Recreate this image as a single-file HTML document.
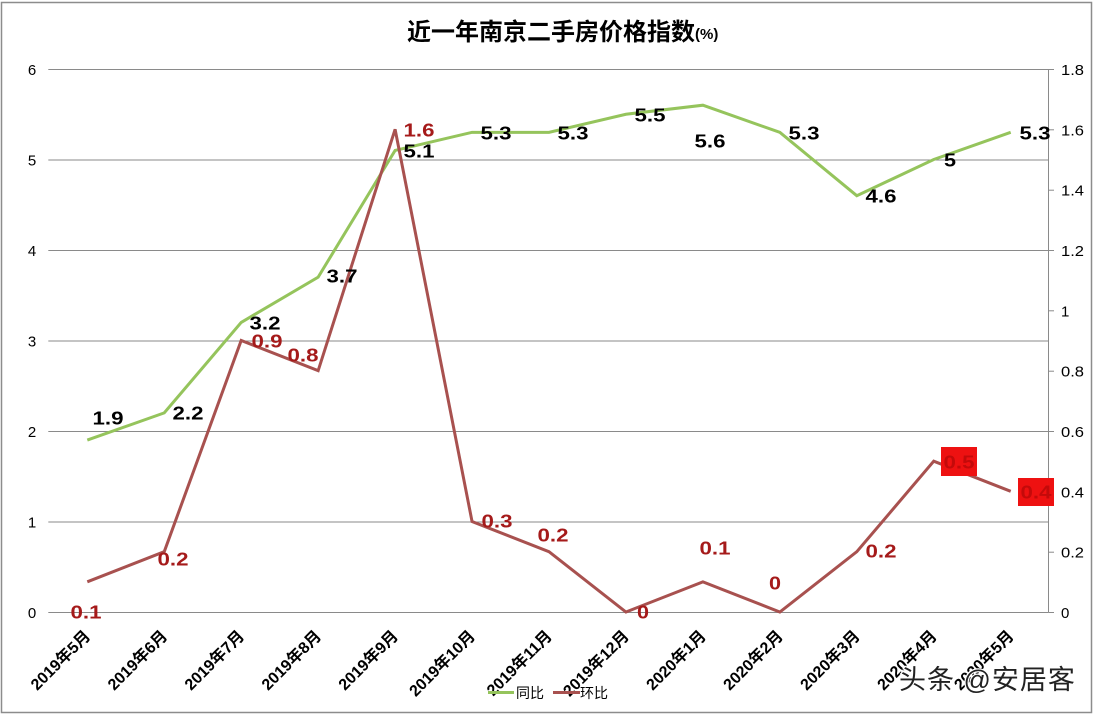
<!DOCTYPE html>
<html>
<head>
<meta charset="utf-8">
<style>
  html, body { margin: 0; padding: 0; background: #ffffff; }
  svg { display: block; }
  text { font-family: "Liberation Sans", "Noto Sans CJK SC", sans-serif; }
</style>
</head>
<body>
<svg width="1094" height="714" viewBox="0 0 1094 714" xmlns="http://www.w3.org/2000/svg">
  <rect x="0" y="0" width="1094" height="714" fill="#ffffff"/>
  <rect x="1.5" y="2.5" width="1090" height="710" fill="none" stroke="#8c8c8c" stroke-width="1.5"/>

  <!-- Title -->
  <text x="407" y="40" font-size="24" font-weight="bold" fill="#000" font-family="'Liberation Sans','Noto Sans CJK SC',sans-serif">近一年南京二手房价格指数<tspan font-size="15" dy="-1">(%)</tspan></text>

  <!-- Gridlines -->
  <g stroke="#8a8a8a" stroke-width="1">
    <line x1="48.3" y1="69.5" x2="1048.3" y2="69.5"/>
    <line x1="48.3" y1="160" x2="1048.3" y2="160"/>
    <line x1="48.3" y1="250.5" x2="1048.3" y2="250.5"/>
    <line x1="48.3" y1="341" x2="1048.3" y2="341"/>
    <line x1="48.3" y1="431.5" x2="1048.3" y2="431.5"/>
    <line x1="48.3" y1="522" x2="1048.3" y2="522"/>
    <line x1="48.3" y1="612.5" x2="1048.3" y2="612.5"/>
    <!-- right axis -->
    <line x1="1048.5" y1="69" x2="1048.5" y2="612.5"/>
    <line x1="1048.5" y1="69.5" x2="1054" y2="69.5"/>
    <line x1="1048.5" y1="129.8" x2="1054" y2="129.8"/>
    <line x1="1048.5" y1="190.2" x2="1054" y2="190.2"/>
    <line x1="1048.5" y1="250.5" x2="1054" y2="250.5"/>
    <line x1="1048.5" y1="310.8" x2="1054" y2="310.8"/>
    <line x1="1048.5" y1="371.2" x2="1054" y2="371.2"/>
    <line x1="1048.5" y1="431.5" x2="1054" y2="431.5"/>
    <line x1="1048.5" y1="491.8" x2="1054" y2="491.8"/>
    <line x1="1048.5" y1="552.2" x2="1054" y2="552.2"/>
    <line x1="1048.5" y1="612.5" x2="1054" y2="612.5"/>
  </g>

  <!-- Left axis labels -->
  <g font-size="15" fill="#000" text-anchor="middle">
    <text x="32" y="75">6</text>
    <text x="32" y="165.5">5</text>
    <text x="32" y="256">4</text>
    <text x="32" y="346.5">3</text>
    <text x="32" y="437">2</text>
    <text x="32" y="527.5">1</text>
    <text x="32" y="618">0</text>
  </g>

  <!-- Right axis labels -->
  <g font-size="15" fill="#000" text-anchor="start">
    <text x="1061" y="75" textLength="23" lengthAdjust="spacingAndGlyphs">1.8</text>
    <text x="1061" y="135.3" textLength="23" lengthAdjust="spacingAndGlyphs">1.6</text>
    <text x="1061" y="195.7" textLength="23" lengthAdjust="spacingAndGlyphs">1.4</text>
    <text x="1061" y="256" textLength="23" lengthAdjust="spacingAndGlyphs">1.2</text>
    <text x="1061" y="316.3">1</text>
    <text x="1061" y="376.7" textLength="23" lengthAdjust="spacingAndGlyphs">0.8</text>
    <text x="1061" y="437" textLength="23" lengthAdjust="spacingAndGlyphs">0.6</text>
    <text x="1061" y="497.3" textLength="23" lengthAdjust="spacingAndGlyphs">0.4</text>
    <text x="1061" y="557.7" textLength="23" lengthAdjust="spacingAndGlyphs">0.2</text>
    <text x="1061" y="618">0</text>
  </g>

  <!-- X axis labels -->
  <g font-size="16" font-weight="bold" fill="#000" text-anchor="end">
    <text transform="translate(91.3,637) rotate(-45)">2019年5月</text>
    <text transform="translate(168.3,637) rotate(-45)">2019年6月</text>
    <text transform="translate(245.2,637) rotate(-45)">2019年7月</text>
    <text transform="translate(322.2,637) rotate(-45)">2019年8月</text>
    <text transform="translate(399.1,637) rotate(-45)">2019年9月</text>
    <text transform="translate(476.1,637) rotate(-45)">2019年10月</text>
    <text transform="translate(553,637) rotate(-45)">2019年11月</text>
    <text transform="translate(630,637) rotate(-45)">2019年12月</text>
    <text transform="translate(706.9,637) rotate(-45)">2020年1月</text>
    <text transform="translate(783.9,637) rotate(-45)">2020年2月</text>
    <text transform="translate(860.8,637) rotate(-45)">2020年3月</text>
    <text transform="translate(937.8,637) rotate(-45)">2020年4月</text>
    <text transform="translate(1014.7,637) rotate(-45)">2020年5月</text>
  </g>

  <!-- Green series 同比 -->
  <polyline fill="none" stroke="#95c45c" stroke-width="3" stroke-linejoin="miter"
    points="87.3,440.05 164.25,412.9 241.2,322.4 318.15,277.15 395.1,150.45 472.05,132.35 549,132.35 625.95,114.25 702.9,105.2 779.85,132.35 856.8,195.7 933.75,159.5 1010.7,132.35"/>

  <!-- Red series 环比 -->
  <polyline fill="none" stroke="#a8514f" stroke-width="3" stroke-linejoin="miter"
    points="87.3,581.8 164.25,551.7 241.2,340.5 318.15,370.7 395.1,129.3 472.05,521.5 549,551.7 625.95,612 702.9,581.8 779.85,612 856.8,551.7 933.75,461.2 1010.7,491.3"/>

  <!-- Green data labels -->
  <g font-size="18" font-weight="bold" fill="#000" text-anchor="middle">
    <text x="108" y="424.5" textLength="31" lengthAdjust="spacingAndGlyphs">1.9</text>
    <text x="188" y="419.5" textLength="31" lengthAdjust="spacingAndGlyphs">2.2</text>
    <text x="265" y="329.5" textLength="31" lengthAdjust="spacingAndGlyphs">3.2</text>
    <text x="342" y="282.5" textLength="31" lengthAdjust="spacingAndGlyphs">3.7</text>
    <text x="419" y="157.5" textLength="31" lengthAdjust="spacingAndGlyphs">5.1</text>
    <text x="496" y="139.5" textLength="31" lengthAdjust="spacingAndGlyphs">5.3</text>
    <text x="573" y="139.5" textLength="31" lengthAdjust="spacingAndGlyphs">5.3</text>
    <text x="650" y="121.5" textLength="31" lengthAdjust="spacingAndGlyphs">5.5</text>
    <text x="710" y="147.5" textLength="31" lengthAdjust="spacingAndGlyphs">5.6</text>
    <text x="804" y="139.5" textLength="31" lengthAdjust="spacingAndGlyphs">5.3</text>
    <text x="881" y="202.5" textLength="31" lengthAdjust="spacingAndGlyphs">4.6</text>
    <text x="950" y="166.5" textLength="12" lengthAdjust="spacingAndGlyphs">5</text>
    <text x="1035" y="139.5" textLength="31" lengthAdjust="spacingAndGlyphs">5.3</text>
  </g>

  <!-- Red data labels -->
  <rect x="941" y="447" width="36" height="29" fill="#ee1111"/>
  <rect x="1018" y="478" width="36" height="28" fill="#ee1111"/>
  <g font-size="18" font-weight="bold" fill="#a51a1a" text-anchor="middle">
    <text x="86" y="618.5" textLength="31" lengthAdjust="spacingAndGlyphs">0.1</text>
    <text x="173" y="565.5" textLength="31" lengthAdjust="spacingAndGlyphs">0.2</text>
    <text x="267" y="347.5" textLength="31" lengthAdjust="spacingAndGlyphs">0.9</text>
    <text x="303" y="361.5" textLength="31" lengthAdjust="spacingAndGlyphs">0.8</text>
    <text x="419" y="136.5" textLength="31" lengthAdjust="spacingAndGlyphs">1.6</text>
    <text x="497" y="527.5" textLength="31" lengthAdjust="spacingAndGlyphs">0.3</text>
    <text x="553" y="541.5" textLength="31" lengthAdjust="spacingAndGlyphs">0.2</text>
    <text x="643" y="618.5" textLength="12" lengthAdjust="spacingAndGlyphs">0</text>
    <text x="715" y="554.5" textLength="31" lengthAdjust="spacingAndGlyphs">0.1</text>
    <text x="775" y="589.5" textLength="12" lengthAdjust="spacingAndGlyphs">0</text>
    <text x="881" y="557.5" textLength="31" lengthAdjust="spacingAndGlyphs">0.2</text>
  </g>
  <g font-size="18" font-weight="bold" fill="#c40a0a" text-anchor="middle">
    <text x="959" y="468.5" textLength="31" lengthAdjust="spacingAndGlyphs">0.5</text>
    <text x="1036" y="498.5" textLength="31" lengthAdjust="spacingAndGlyphs">0.4</text>
  </g>

  <!-- Legend -->
  <line x1="488" y1="692.5" x2="514" y2="692.5" stroke="#95c45c" stroke-width="3"/>
  <text x="516" y="698" font-size="14" fill="#000">同比</text>
  <line x1="553" y1="692.5" x2="580" y2="692.5" stroke="#a8514f" stroke-width="3"/>
  <text x="580" y="698" font-size="14" fill="#000">环比</text>

  <!-- Watermark -->
  <text x="899" y="689" font-size="27" letter-spacing="1" fill="#222" stroke="#ffffff" stroke-width="2.5" paint-order="stroke" font-family="'Liberation Sans','Noto Sans CJK SC',sans-serif">头条 @安居客</text>
</svg>
</body>
</html>
